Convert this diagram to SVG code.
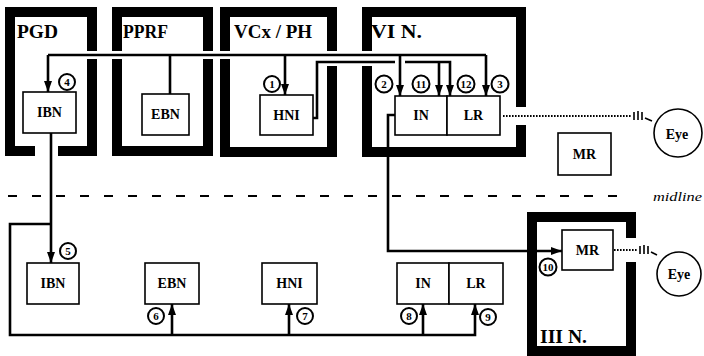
<svg xmlns="http://www.w3.org/2000/svg" width="704" height="356" viewBox="0 0 704 356">
<defs>
<style>
.frame{fill:none;stroke:#000;stroke-width:10;stroke-linejoin:miter}
.halo{fill:none;stroke:#fff;stroke-width:8}
.conn{fill:none;stroke:#000;stroke-width:2.6}
.box{fill:#fff;stroke:#000;stroke-width:1.6}
.num{fill:#fff;stroke:#000;stroke-width:2}
.lbl{font-family:"Liberation Serif",serif;font-weight:bold;font-size:18px;fill:#000}
.bt{font-family:"Liberation Serif",serif;font-weight:bold;font-size:14px;fill:#000;text-anchor:middle}
.nt{font-family:"Liberation Serif",serif;font-weight:bold;font-size:11px;fill:#000;text-anchor:middle}
.dot{fill:none;stroke:#000;stroke-width:2.2;stroke-dasharray:1.6 1.4}
.tick{fill:none;stroke:#000;stroke-width:1.6}
.mid{fill:none;stroke:#000;stroke-width:2;stroke-dasharray:9 15}
.eye{fill:#fff;stroke:#000;stroke-width:1.6}
</style>
<marker id="ah" viewBox="0 0 8 11" refX="8" refY="5.5" markerWidth="8" markerHeight="11" markerUnits="userSpaceOnUse" orient="auto">
<path d="M0,0 L8,5.5 L0,11 z" fill="#000" transform="rotate(0)"/>
</marker>
<marker id="ahv" viewBox="0 0 11 8" refX="11" refY="4" markerWidth="11" markerHeight="8" markerUnits="userSpaceOnUse" orient="auto">
<path d="M0,0 L11,4 L0,8 z" fill="#000"/>
</marker>
</defs>

<!-- frames -->
<g id="frame-PGD">
<path class="frame" d="M35,151 H10 V12 H92 V151 H58"/>
<text class="lbl" x="17" y="38" textLength="41" lengthAdjust="spacingAndGlyphs">PGD</text>
</g>
<g id="frame-PPRF">
<rect class="frame" x="117" y="12" width="91" height="139"/>
<text class="lbl" x="123" y="38" textLength="45" lengthAdjust="spacingAndGlyphs">PPRF</text>
</g>
<g id="frame-VCx">
<rect class="frame" x="225" y="12" width="107" height="140"/>
<text class="lbl" x="234" y="38" textLength="78" lengthAdjust="spacingAndGlyphs">VCx / PH</text>
</g>
<g id="frame-VIN">
<path class="frame" d="M521,107 V12 H367 V152 H521 V125"/>
<text class="lbl" x="371" y="38" textLength="51" lengthAdjust="spacingAndGlyphs">VI N.</text>
</g>
<g id="frame-IIIN">
<path class="frame" d="M631,238 V217 H532 V351 H631 V262"/>
<text class="lbl" x="540" y="343" textLength="47" lengthAdjust="spacingAndGlyphs">III N.</text>
</g>

<!-- midline -->
<g id="midline">
<line class="mid" x1="8" y1="196" x2="630" y2="196"/>
<text x="653" y="201" font-family="Liberation Serif,serif" font-style="italic" font-size="13" textLength="49" lengthAdjust="spacingAndGlyphs">midline</text>
</g>

<!-- connectors -->
<g id="connectors">
<g id="halos">
<path class="halo" d="M48,55 H486"/>
<path class="halo" d="M317,62 H395 M405,62 H450"/>
</g>
<path class="conn" d="M48,55 H486"/>
<path class="conn" d="M48,55 V92" marker-end="url(#ahv)"/>
<path class="conn" d="M170,55 V94"/>
<path class="conn" d="M285,55 V95" marker-end="url(#ahv)"/>
<path class="conn" d="M400,55 V96" marker-end="url(#ahv)"/>
<path class="conn" d="M486,55 V96" marker-end="url(#ahv)"/>
<path class="conn" d="M313,118 H317 V62 H395"/>
<path class="conn" d="M405,62 H450 V96" marker-end="url(#ahv)"/>
<path class="conn" d="M439,62 V96" marker-end="url(#ahv)"/>
<path class="conn" d="M395,115 H388 V251 H562" marker-end="url(#ahv)"/>
<path class="conn" d="M51,133 V263" marker-end="url(#ahv)"/>
<path class="conn" d="M51,224 H10 V335 H475 V304" marker-end="url(#ahv)"/>
<path class="conn" d="M172,335 V304" marker-end="url(#ahv)"/>
<path class="conn" d="M289,335 V304" marker-end="url(#ahv)"/>
<path class="conn" d="M423,335 V304" marker-end="url(#ahv)"/>
<path class="dot" d="M503,116 H631"/>
<path class="tick" d="M634,112 V120 M638,111 V120 M642,112 V120 M645,118 L652,121"/>
<path class="dot" d="M614,250 H637"/>
<path class="tick" d="M640,246 V254 M644,245 V254 M648,246 V254 M651,252 L657,255"/>
</g>

<!-- upper nodes -->
<g id="IBN-upper"><rect class="box" x="23" y="92" width="53" height="41"/><text class="bt" x="49.5" y="117">IBN</text></g>
<g id="EBN-upper"><rect class="box" x="142" y="94" width="47" height="41"/><text class="bt" x="165.5" y="119">EBN</text></g>
<g id="HNI-upper"><rect class="box" x="260" y="95" width="53" height="40"/><text class="bt" x="286.5" y="120">HNI</text></g>
<g id="IN-upper"><rect class="box" x="395" y="96" width="52" height="39"/><text class="bt" x="421" y="120">IN</text></g>
<g id="LR-upper"><rect class="box" x="447" y="96" width="53" height="39"/><text class="bt" x="473.5" y="120">LR</text></g>
<g id="MR-upper"><rect class="box" x="558" y="133" width="53" height="42"/><text class="bt" x="584.5" y="159">MR</text></g>
<g id="Eye-upper"><circle class="eye" cx="678" cy="133" r="24"/><text class="bt" x="677" y="139" font-weight="normal">Eye</text></g>

<!-- lower nodes -->
<g id="IBN-lower"><rect class="box" x="27" y="263" width="52" height="41"/><text class="bt" x="53" y="288">IBN</text></g>
<g id="EBN-lower"><rect class="box" x="145" y="263" width="54" height="41"/><text class="bt" x="172" y="288">EBN</text></g>
<g id="HNI-lower"><rect class="box" x="262" y="263" width="55" height="41"/><text class="bt" x="289.5" y="288">HNI</text></g>
<g id="IN-lower"><rect class="box" x="397" y="263" width="52" height="41"/><text class="bt" x="423" y="288">IN</text></g>
<g id="LR-lower"><rect class="box" x="449" y="263" width="54" height="41"/><text class="bt" x="476" y="288">LR</text></g>
<g id="MR-lower"><rect class="box" x="562" y="230" width="51" height="40"/><text class="bt" x="587.5" y="255">MR</text></g>
<g id="Eye-lower"><circle class="eye" cx="679" cy="274" r="22"/><text class="bt" x="679" y="279" font-weight="normal">Eye</text></g>

<!-- numbered markers -->
<g id="n1"><circle class="num" cx="272" cy="84" r="8"/><text class="nt" x="272" y="88">1</text></g>
<g id="n2"><circle class="num" cx="384" cy="84" r="8.5"/><text class="nt" x="384" y="88">2</text></g>
<g id="n11"><circle class="num" cx="421" cy="84" r="8.5"/><text class="nt" x="421" y="88">11</text></g>
<g id="n12"><circle class="num" cx="466" cy="84" r="8.5"/><text class="nt" x="466" y="88">12</text></g>
<g id="n3"><circle class="num" cx="500" cy="84" r="8.5"/><text class="nt" x="500" y="88">3</text></g>
<g id="n4"><circle class="num" cx="67" cy="82" r="8"/><text class="nt" x="67" y="86">4</text></g>
<g id="n5"><circle class="num" cx="68" cy="251" r="8"/><text class="nt" x="68" y="255">5</text></g>
<g id="n6"><circle class="num" cx="156" cy="316" r="8"/><text class="nt" x="156" y="320">6</text></g>
<g id="n7"><circle class="num" cx="305" cy="316" r="8"/><text class="nt" x="305" y="320">7</text></g>
<g id="n8"><circle class="num" cx="409" cy="316" r="8"/><text class="nt" x="409" y="320">8</text></g>
<g id="n9"><circle class="num" cx="488" cy="317" r="8"/><text class="nt" x="488" y="321">9</text></g>
<g id="n10"><circle class="num" cx="548" cy="267" r="8.5"/><text class="nt" x="548" y="271">10</text></g>
</svg>
